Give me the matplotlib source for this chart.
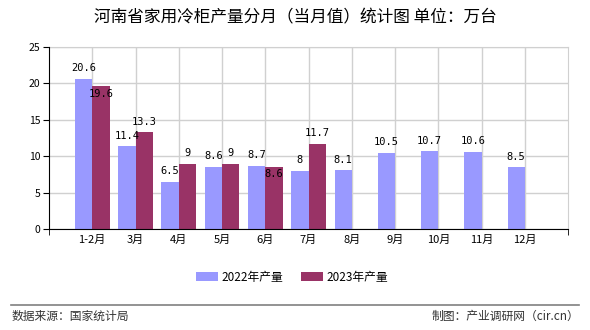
import matplotlib.pyplot as plt
import numpy as np

plt.rcParams['font.family'] = ['Noto Sans CJK SC', 'DejaVu Sans']

months = ['1-2月', '3月', '4月', '5月', '6月', '7月', '8月', '9月', '10月', '11月', '12月']
prod_2022 = [20.6, 11.4, 6.5, 8.6, 8.7, 8, 8.1, 10.5, 10.7, 10.6, 8.5]
prod_2023 = [19.6, 13.3, 9, 9, 8.6, 11.7]

c22 = '#9999ff'
c23 = '#993366'

fig = plt.figure(figsize=(5.9, 3.3), dpi=100)
ax = fig.add_axes([0.083, 0.305, 0.88, 0.553])

x = np.arange(len(months))
w = 0.4
ax.bar(x - w / 2, prod_2022, width=w, color=c22, label='2022年产量', zorder=3)
x23 = np.arange(len(prod_2023))
ax.bar(x23 + w / 2, prod_2023, width=w, color=c23, label='2023年产量', zorder=3)

lab_font = dict(family='DejaVu Sans Mono', fontsize=7.5, color='black')

def fmt(v):
    return ('%g' % v)

for i, v in enumerate(prod_2022):
    ax.annotate(fmt(v), (i - w / 2, v), xytext=(0, 4), textcoords='offset points',
                ha='center', va='bottom', zorder=5, **lab_font)

for i, v in enumerate(prod_2023):
    s = fmt(v)
    # labels that would collide with the 2022 label go inside the bar
    if abs(v - prod_2022[i]) < 1.5 and len(s) > 1:
        ax.annotate(s, (i + w / 2, v), xytext=(0, -2), textcoords='offset points',
                    ha='center', va='top', zorder=5, **lab_font)
    else:
        ax.annotate(s, (i + w / 2, v), xytext=(0, 4), textcoords='offset points',
                    ha='center', va='bottom', zorder=5, **lab_font)

ax.set_xlim(-1, 11)
ax.set_ylim(0, 25)
ax.set_yticks([0, 5, 10, 15, 20, 25])
ax.set_xticks(x)
ax.set_xticklabels(months, fontsize=8)
ax.tick_params(axis='x', length=0, pad=4)
ax.set_xticks([-1, 11], minor=True)
ax.tick_params(axis='x', which='minor', length=4, color='black')
ax.tick_params(axis='y', length=4, labelsize=7.5, pad=2)

ax.grid(True, color='#d0d0d0', linewidth=1, zorder=0)
for sp in ['top', 'right']:
    ax.spines[sp].set_color('#d0d0d0')
ax.spines['left'].set_color('black')
ax.spines['bottom'].set_color('black')
ax.spines['left'].set_zorder(4)
ax.spines['bottom'].set_zorder(4)

fig.text(0.5, 0.945, '河南省家用冷柜产量分月（当月值）统计图 单位：万台',
         ha='center', va='center', fontsize=12)

fig.legend(loc='center', bbox_to_anchor=(0.495, 0.16), ncol=2, frameon=False,
           fontsize=8.5, handlelength=1.9, handleheight=0.7, columnspacing=1.5,
           handletextpad=0.3)

fig.add_artist(plt.Line2D([0.019, 0.981], [0.076, 0.076], color='#808080', linewidth=1.2,
                          transform=fig.transFigure))
fig.text(0.02, 0.042, '数据来源：国家统计局', ha='left', va='center', fontsize=8.5, color='#333333')
fig.text(0.981, 0.042, '制图：产业调研网（cir.cn）', ha='right', va='center', fontsize=8.5, color='#333333')

fig.savefig('out.png', dpi=100)
